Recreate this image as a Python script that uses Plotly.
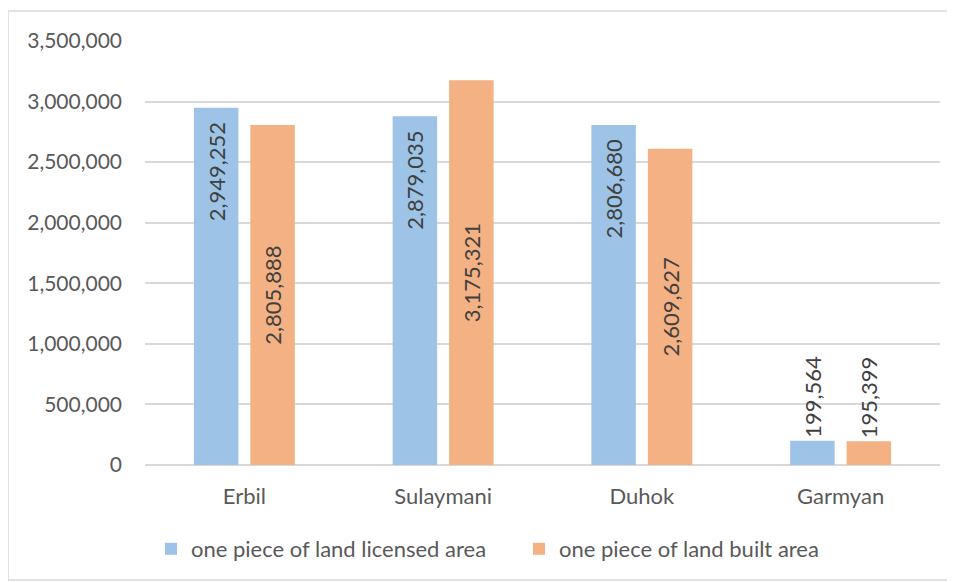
import plotly.graph_objects as go

categories = ["Erbil", "Sulaymani", "Duhok", "Garmyan"]
licensed = [2949252, 2879035, 2806680, 199564]
built = [2805888, 3175321, 2609627, 195399]
series_names = ["one piece of land licensed area", "one piece of land built area"]

# page is offset by 8px body margin
OFF = 8
W, H = 955, 582
ml = 145 - OFF
mt = 41 - OFF
plot_right = 940 - OFF
plot_bottom = 465 - OFF
mr = W - plot_right
mb = H - plot_bottom
pw = W - ml - mr
ph = H - mt - mb

def px_x(x):
    return (x - OFF - ml) / pw

def px_y(y):
    return (plot_bottom - (y - OFF)) / ph

font_family = "Lato, 'Open Sans', sans-serif"
txt_color = "#595959"
NB = "\u00a0"

def fmt(v):
    return f"{v:,}"

fig = go.Figure()
fig.add_trace(go.Bar(
    x=categories, y=licensed, name=series_names[0],
    marker=dict(color="#9DC3E6", line=dict(width=0)),
    text=[fmt(v) + NB * 2 for v in licensed[:3]] + [fmt(licensed[3])],
    textposition=["inside", "inside", "inside", "outside"],
    insidetextanchor="end",
    textangle=-90,
    textfont=dict(size=22, color="#404040", family=font_family),
    cliponaxis=False,
))
fig.add_trace(go.Bar(
    x=categories, y=built, name=series_names[1],
    marker=dict(color="#F4B183", line=dict(width=0)),
    text=[fmt(v) for v in built],
    textposition=["inside", "inside", "inside", "outside"],
    insidetextanchor="middle",
    textangle=-90,
    textfont=dict(size=22, color="#404040", family=font_family),
    cliponaxis=False,
))

fig.update_layout(
    width=W, height=H,
    margin=dict(l=ml, r=mr, t=mt, b=mb, autoexpand=False),
    paper_bgcolor="white", plot_bgcolor="white",
    barmode="group", bargap=0.432, bargroupgap=0.212,
    font=dict(family=font_family, color=txt_color, size=22),
    uniformtext=dict(mode="show", minsize=22),
    legend=dict(orientation="h", x=px_x(151), xanchor="left", y=px_y(549), yanchor="middle",
                font=dict(size=22, color=txt_color), itemwidth=30, traceorder="normal",
                entrywidth=323, entrywidthmode="pixels"),
    showlegend=True,
    shapes=[dict(type="rect", xref="paper", yref="paper",
                 x0=px_x(8), x1=px_x(950), y0=px_y(580), y1=px_y(11),
                 line=dict(color="#D9D9D9", width=1.5), fillcolor="rgba(0,0,0,0)", layer="below")],
)
fig.update_yaxes(range=[0, 3500000], dtick=500000, tickformat=",",
                 showgrid=True, gridcolor="#D9D9D9", gridwidth=1.5,
                 zeroline=True, zerolinecolor="#D9D9D9", zerolinewidth=1.5,
                 showline=False, ticks="", ticklabelstandoff=22,
                 tickfont=dict(size=21, color=txt_color))
fig.update_xaxes(showline=False, ticks="", ticklabelstandoff=16,
                 tickfont=dict(size=22, color=txt_color))

fig.write_html("out.html")
